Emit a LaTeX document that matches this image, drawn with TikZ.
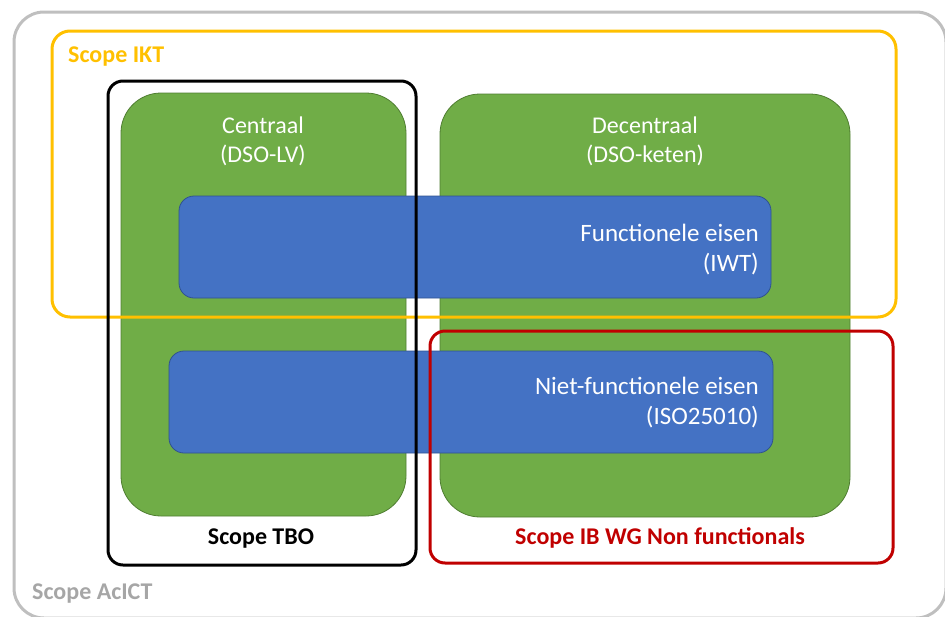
\documentclass[tikz,border=0pt]{standalone}
\usepackage{fontspec}
\setmainfont{Carlito}
\usepackage{tikz}
\definecolor{scopegrey}{HTML}{BFBFBF}
\definecolor{scopetext}{HTML}{A6A6A6}
\definecolor{scopeyellow}{HTML}{FFC000}
\definecolor{scopered}{HTML}{C00000}
\definecolor{blockgreen}{HTML}{70AD47}
\definecolor{blockgreenline}{HTML}{507E32}
\definecolor{blockblue}{HTML}{4472C4}
\definecolor{blockblueline}{HTML}{2F528F}
\tikzset{
	scopeline/.style={line width=3pt, rounded corners=15pt},
	block/.style={line width=0.8pt},
	bigtext/.style={font=\fontsize{24}{29}\selectfont, inner sep=0pt},
}

\begin{document}
\begin{tikzpicture}[x=1pt, y=-1pt]
			\useasboundingbox (0,0) rectangle (945,616);
			% coordinates
			\coordinate (AcA) at (14,12);
			\coordinate (AcB) at (946,618);
			\coordinate (IktA) at (52,31);
			\coordinate (IktB) at (896,317);
			\coordinate (TboA) at (108,81);
			\coordinate (TboB) at (416,565);
			\coordinate (IbA) at (430,331);
			\coordinate (IbB) at (893,563);
			% outer scope
			\draw[scopeline, scopegrey, rounded corners=30pt] (AcA) rectangle (AcB);
			% green blocks
			\filldraw[block, fill=blockgreen, draw=blockgreenline, rounded corners=40pt]
			(121,93) rectangle (406,516);
			\filldraw[block, fill=blockgreen, draw=blockgreenline, rounded corners=40pt]
			(440,94) rectangle (850,517);
			% blue blocks
			\filldraw[block, fill=blockblue, draw=blockblueline, rounded corners=15pt]
			(179,196) rectangle (771,298);
			\filldraw[block, fill=blockblue, draw=blockblueline, rounded corners=15pt]
			(169,351) rectangle (773,453);
			% scope frames
			\draw[scopeline, scopeyellow, rounded corners=18pt] (IktA) rectangle (IktB);
			\draw[scopeline, black] (TboA) rectangle (TboB);
			\draw[scopeline, scopered] (IbA) rectangle (IbB);
			% labels
			\node[bigtext, white, align=center] (centraal) at (263,141) {Centraal\\(DSO-LV)};
			\node[bigtext, white, align=center] (decentraal) at (645,141) {Decentraal\\(DSO-keten)};
			\node[bigtext, white, font=\fontsize{25}{30}\selectfont, align=right, anchor=east] (functioneel) at (759,250) {Functionele eisen\\(IWT)\hspace{5pt}};
			\node[bigtext, white, font=\fontsize{25}{30}\selectfont, align=right, anchor=east] (nietfunctioneel) at (759,403) {Niet-functionele eisen\\(ISO25010)\hspace{8pt}};
			\node[bigtext, scopeyellow, font=\fontsize{24}{29}\selectfont\bfseries, anchor=west] (ikt) at (68,57) {Scope IKT};
			\node[bigtext, black, font=\fontsize{24}{29}\selectfont\bfseries] (tbo) at (261,539) {Scope TBO};
			\node[bigtext, scopered, font=\fontsize{24}{29}\selectfont\bfseries] (ibwg) at (660,538) {Scope IB WG Non functionals};
			\node[bigtext, scopetext, font=\fontsize{24}{29}\selectfont\bfseries, anchor=west] (acict) at (32,594) {Scope AcICT};
		\end{tikzpicture}
\end{document}
